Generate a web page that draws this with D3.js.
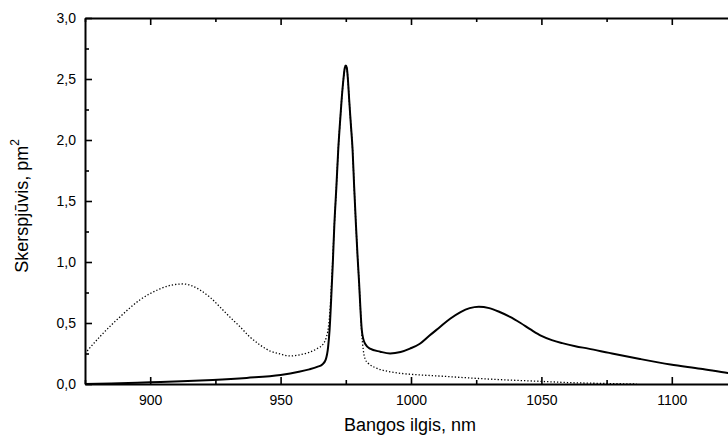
<!DOCTYPE html>
<html>
<head>
<meta charset="utf-8">
<script src="https://cdn.jsdelivr.net/npm/d3@7"></script>
<style>
  body { margin: 0; background: #fff; }
  svg { display: block; }
  text { font-family: "Liberation Sans", Arial, sans-serif; fill: #000; }
</style>
</head>
<body>
<svg id="chart" width="728" height="437"></svg>
<script>
// ---- data ----
const solidWavelength = [875, 885, 900, 912, 924, 937, 950, 957, 961, 964, 966, 967.3, 968.2, 968.8, 969.4, 970, 970.6, 971.4, 972.1, 972.8, 973.4, 974.1, 974.6, 975, 975.4, 975.8, 976.3, 976.9, 977.6, 978.2, 978.9, 979.5, 980.1, 980.6, 981.1, 981.7, 982.4, 984.3, 988.2, 992, 996, 999.6, 1003.4, 1007, 1011, 1015, 1019, 1022.5, 1026, 1030, 1034, 1038, 1042, 1046, 1050, 1054, 1058, 1063, 1068, 1076, 1087.8, 1099.5, 1111, 1121.5, 1125];
const solidValue = [0.0, 0.004, 0.014, 0.022, 0.033, 0.05, 0.074, 0.10, 0.12, 0.14, 0.16, 0.20, 0.30, 0.45, 0.70, 0.98, 1.30, 1.62, 1.92, 2.15, 2.33, 2.50, 2.59, 2.61, 2.59, 2.50, 2.33, 2.14, 1.92, 1.62, 1.30, 1.05, 0.83, 0.62, 0.45, 0.37, 0.33, 0.29, 0.265, 0.25, 0.262, 0.29, 0.33, 0.395, 0.465, 0.535, 0.59, 0.622, 0.634, 0.622, 0.59, 0.55, 0.50, 0.445, 0.395, 0.36, 0.335, 0.31, 0.29, 0.255, 0.205, 0.16, 0.125, 0.09, 0.08];

const dottedWavelength = [875, 880.8, 888.4, 896.1, 903.8, 908, 912.7, 916, 919.1, 923, 926.8, 930.5, 934.4, 938, 942.1, 946, 949.8, 953.6, 957.4, 961, 964, 966.4, 967.5, 968.3, 969, 969.6, 970.6, 971.4, 972.1, 972.8, 973.4, 974.1, 974.6, 975, 975.4, 975.8, 976.3, 976.9, 977.6, 978.2, 978.9, 979.5, 980.1, 980.6, 981.1, 981.7, 982.5, 983.6, 986.8, 992, 997, 1003, 1011, 1026, 1038, 1049.5, 1060, 1072.5, 1086.5];
const dottedValue = [0.25, 0.39, 0.55, 0.69, 0.78, 0.81, 0.82, 0.805, 0.77, 0.71, 0.63, 0.55, 0.47, 0.39, 0.32, 0.27, 0.246, 0.23, 0.24, 0.26, 0.29, 0.33, 0.38, 0.46, 0.62, 0.85, 1.30, 1.62, 1.92, 2.15, 2.33, 2.50, 2.59, 2.61, 2.59, 2.50, 2.33, 2.14, 1.92, 1.62, 1.30, 1.05, 0.83, 0.62, 0.42, 0.28, 0.20, 0.17, 0.13, 0.10, 0.085, 0.075, 0.065, 0.045, 0.032, 0.022, 0.012, 0.005, 0.0];

const xMajorTicks = [900, 950, 1000, 1050, 1100];
const xMinorTicks = [875, 925, 975, 1025, 1075, 1125];
const yMajorTicks = [0, 0.5, 1.0, 1.5, 2.0, 2.5, 3.0];
const yMinorTicks = [0.25, 0.75, 1.25, 1.75, 2.25, 2.75];

const xTitle = "Bangos ilgis, nm";
const yTitle = "Skerspjūvis, pm";
const yTitleSup = "2";

// ---- drawing ----
const svg = d3.select("#chart");
const L = 85, R = 737, T = 18, B = 384;
const x = d3.scaleLinear().domain([875, 1125]).range([L, R]);
const y = d3.scaleLinear().domain([0, 3]).range([B, T]);
const fmt = d3.format(".1f");
const comma = v => fmt(v).replace(".", ",");

svg.append("defs").append("clipPath").attr("id", "plotclip")
  .append("rect").attr("x", L).attr("y", T - 2).attr("width", R - L).attr("height", B - T + 2);

const line = d3.line().x(d => x(d[0])).y(d => y(d[1])).curve(d3.curveMonotoneX);
const solid = solidWavelength.map((w, i) => [w, solidValue[i]]);
const dotted = dottedWavelength.map((w, i) => [w, dottedValue[i]]);

const g = svg.append("g").attr("clip-path", "url(#plotclip)");
g.append("path").datum(dotted).attr("d", line)
  .attr("fill", "none").attr("stroke", "#000").attr("stroke-width", 1.3)
  .attr("stroke-dasharray", "1.3,2");
g.append("path").datum(solid).attr("d", line)
  .attr("fill", "none").attr("stroke", "#000").attr("stroke-width", 2)
  .attr("stroke-linejoin", "round");

function styleAxis(sel) {
  sel.selectAll(".domain").attr("stroke", "#000").attr("stroke-width", 2);
  sel.selectAll(".tick line").attr("stroke", "#000").attr("stroke-width", 1.6);
  sel.selectAll("text").attr("font-size", 14).attr("font-family", "'Liberation Sans', Arial, sans-serif");
}

// bottom axis
const xb = svg.append("g").attr("transform", `translate(0,${B})`)
  .call(d3.axisBottom(x).tickValues(xMajorTicks).tickFormat(d3.format("d"))
    .tickSizeInner(-7).tickSizeOuter(0).tickPadding(11));
styleAxis(xb);
const xbm = svg.append("g").attr("transform", `translate(0,${B})`)
  .call(d3.axisBottom(x).tickValues(xMinorTicks).tickFormat("").tickSizeInner(-4).tickSizeOuter(0));
styleAxis(xbm); xbm.select(".domain").remove();

// top axis
const xt = svg.append("g").attr("transform", `translate(0,${T})`)
  .call(d3.axisTop(x).tickValues(xMajorTicks).tickFormat("").tickSizeInner(-7).tickSizeOuter(0));
styleAxis(xt);
const xtm = svg.append("g").attr("transform", `translate(0,${T})`)
  .call(d3.axisTop(x).tickValues(xMinorTicks).tickFormat("").tickSizeInner(-4).tickSizeOuter(0));
styleAxis(xtm); xtm.select(".domain").remove();

// left axis
const yl = svg.append("g").attr("transform", `translate(${L},0)`)
  .call(d3.axisLeft(y).tickValues(yMajorTicks).tickFormat(comma)
    .tickSizeInner(-7).tickSizeOuter(0).tickPadding(9));
styleAxis(yl);
const ylm = svg.append("g").attr("transform", `translate(${L},0)`)
  .call(d3.axisLeft(y).tickValues(yMinorTicks).tickFormat("").tickSizeInner(-4).tickSizeOuter(0));
styleAxis(ylm); ylm.select(".domain").remove();

// right axis (mostly outside window)
const yr = svg.append("g").attr("transform", `translate(${R},0)`)
  .call(d3.axisRight(y).tickValues(yMajorTicks).tickFormat("").tickSizeInner(-7).tickSizeOuter(0));
styleAxis(yr);

// titles
svg.append("text").attr("x", 410).attr("y", 431).attr("text-anchor", "middle")
  .attr("font-size", 18).text(xTitle);

const yt = svg.append("text")
  .attr("transform", "translate(28,206) rotate(-90)")
  .attr("text-anchor", "middle").attr("font-size", 18);
yt.append("tspan").text(yTitle);
yt.append("tspan").attr("dy", -9).attr("font-size", 12).text(yTitleSup);
</script>
</body>
</html>
